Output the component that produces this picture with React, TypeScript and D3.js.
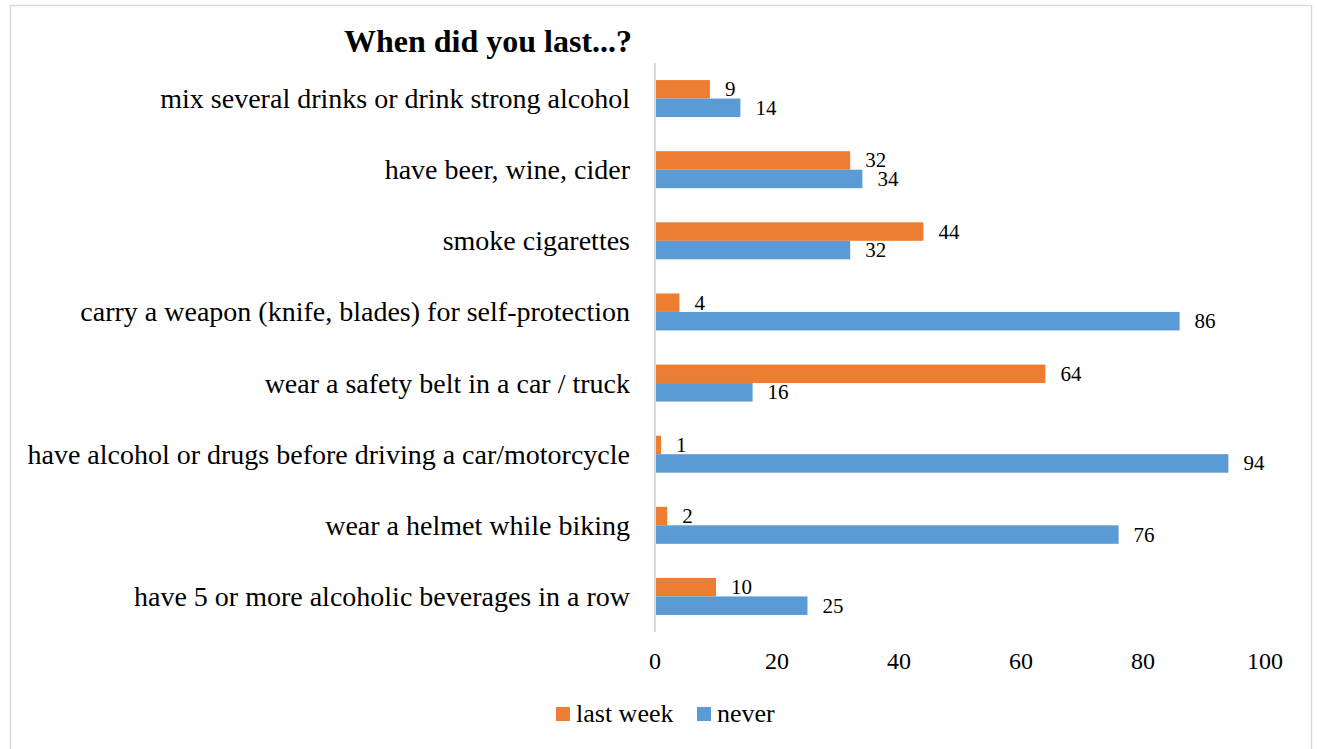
import React from "react";
import * as d3 from "d3";

const categories = [
  "mix several drinks or drink strong alcohol",
  "have beer, wine, cider",
  "smoke cigarettes",
  "carry a weapon (knife, blades) for self-protection",
  "wear a safety belt in a car / truck",
  "have alcohol or drugs before driving a car/motorcycle",
  "wear a helmet while biking",
  "have 5 or more alcoholic beverages in a row",
];
const lastWeek = [9, 32, 44, 4, 64, 1, 2, 10];
const never = [14, 34, 32, 86, 16, 94, 76, 25];
const seriesNames = ["last week", "never"];
const seriesColors = ["#ED7D31", "#5B9BD5"];
const xTicks = [0, 20, 40, 60, 80, 100];
const title = "When did you last...?";

const FONT = "'Liberation Serif', 'Times New Roman', serif";

export default function App() {
  const W = 1317;
  const H = 749;
  const x = d3.scaleLinear().domain([0, 100]).range([655, 1265]);
  const y = d3.scaleBand<string>().domain(categories).range([63, 632]).padding(0);
  const bw = y.bandwidth();
  const groupH = bw * 0.52;
  const sub = d3.scaleBand<string>().domain(seriesNames).range([0, groupH]);
  const series = [lastWeek, never];

  return (
    <svg
      width={W}
      height={H}
      style={{ position: "absolute", left: 0, top: 0, background: "#fff" }}
      fontFamily={FONT}
    >
      <rect x={10.5} y={5.5} width={1301} height={770} fill="#fff" stroke="#D9D9D9" strokeWidth={1.5} />
      <text x={344} y={52} fontSize={32} fontWeight="bold" fill="#000">
        {title}
      </text>
      {categories.map((c, i) => {
        const yc = (y(c) as number) + bw / 2;
        const g0 = yc - groupH / 2;
        return (
          <g key={c}>
            <text x={630} y={yc + 9.5} fontSize={28} textAnchor="end" fill="#000">
              {c}
            </text>
            {series.map((s, si) => {
              const by = g0 + (sub(seriesNames[si]) as number);
              const bh = sub.bandwidth();
              return (
                <g key={si}>
                  <rect
                    x={x(0)}
                    y={by}
                    width={x(s[i]) - x(0)}
                    height={bh}
                    fill={seriesColors[si]}
                  />
                  <text
                    x={x(s[i]) + 15}
                    y={by + bh / 2 + 7}
                    fontSize={21}
                    fill="#000"
                  >
                    {s[i]}
                  </text>
                </g>
              );
            })}
          </g>
        );
      })}
      <line x1={x(0)} x2={x(0)} y1={63} y2={632} stroke="#D9D9D9" strokeWidth={2} />
      {xTicks.map((t) => (
        <text key={t} x={x(t)} y={669} fontSize={24} textAnchor="middle" fill="#000">
          {t}
        </text>
      ))}
      {seriesNames.map((n, i) => {
        const lx = [556, 697][i];
        return (
          <g key={n}>
            <rect x={lx} y={707} width={14} height={14} fill={seriesColors[i]} />
            <text x={lx + 20} y={722} fontSize={26} fill="#000">
              {n}
            </text>
          </g>
        );
      })}
    </svg>
  );
}
